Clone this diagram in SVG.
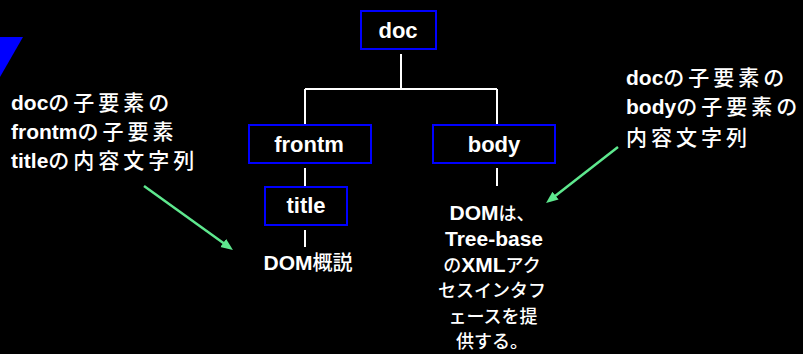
<svg xmlns="http://www.w3.org/2000/svg" width="803" height="354" viewBox="0 0 803 354">
<style>
text{font-family:'Liberation Sans','Noto Sans CJK JP',sans-serif;font-weight:bold;fill:#fff}
.node rect{fill:none;stroke:#0000ff;stroke-width:2}
.lbl{font-size:22px;text-anchor:middle}
.side{font-size:21px}
.j{font-family:'Noto Sans CJK JP',sans-serif;font-weight:500;letter-spacing:4px}
.e{font-family:'Noto Sans CJK JP',sans-serif;font-weight:500}
.k{font-family:'Noto Sans CJK JP',sans-serif;font-weight:500;font-size:18px}
.tree{stroke:#fff;stroke-width:2;fill:none}
.arr{stroke:#5EE88E;stroke-width:2.5;fill:none;marker-end:url(#ah)}
</style>
<defs>
<marker id="ah" markerUnits="userSpaceOnUse" markerWidth="14" markerHeight="12" refX="7" refY="5" orient="auto">
<path d="M0,0 L12,5 L0,10 z" fill="#5EE88E"/>
</marker>
</defs>
<rect width="803" height="354" fill="#000"/>
<polygon points="0,37 23,37 0,77" fill="#0000ff"/>
<g id="connectors">
<path class="tree" d="M401,54 V89 M305,89 H497 M305,89 V125 M497,89 V125 M305,168 V187 M305,230 V247 M497,168 V186"/>
<line class="arr" x1="144" y1="186" x2="228.9" y2="247.1"/>
<line class="arr" x1="618" y1="147" x2="550" y2="199.9"/>
</g>
<g id="node-doc" class="node"><rect x="361" y="11" width="75" height="38"/><text class="lbl" x="398" y="38">doc</text></g>
<g id="node-frontm" class="node"><rect x="249" y="125" width="122" height="38"/><text class="lbl" x="309" y="152">frontm</text></g>
<g id="node-body" class="node"><rect x="433" y="125" width="122" height="38"/><text class="lbl" x="494" y="152">body</text></g>
<g id="node-title" class="node"><rect x="265" y="187" width="82" height="38"/><text class="lbl" x="306" y="213">title</text></g>
<g id="node-title-text"><text x="308" y="270" style="font-size:21px;text-anchor:middle">DOM<tspan style="font-family:'Noto Sans CJK JP',sans-serif;font-weight:500;font-size:20px">概説</tspan></text></g>
<g id="node-body-text" style="text-anchor:middle;font-size:21px">
<text x="492" y="220">DOM<tspan class="k">は、</tspan></text>
<text x="494" y="246">Tree-base</text>
<text x="492" y="271.5"><tspan class="k">の</tspan>XML<tspan class="k">アク</tspan></text>
<text x="492" y="297" class="k">セスインタフ</text>
<text x="493" y="322.5" class="k">ェースを提</text>
<text x="492" y="348" class="k">供する。</text>
</g>
<g id="note-left" class="side">
<text x="11" y="110">doc<tspan class="j">の子要素</tspan><tspan class="e">の</tspan></text>
<text x="11" y="139">frontm<tspan class="j">の子要</tspan><tspan class="e">素</tspan></text>
<text x="11" y="168">title<tspan class="j">の内容文字</tspan><tspan class="e">列</tspan></text>
</g>
<g id="note-right" class="side">
<text x="626" y="85">doc<tspan class="j">の子要素</tspan><tspan class="e">の</tspan></text>
<text x="626" y="114">body<tspan class="j">の子要素</tspan><tspan class="e">の</tspan></text>
<text x="626" y="145"><tspan class="j">内容文字</tspan><tspan class="e">列</tspan></text>
</g>
</svg>
